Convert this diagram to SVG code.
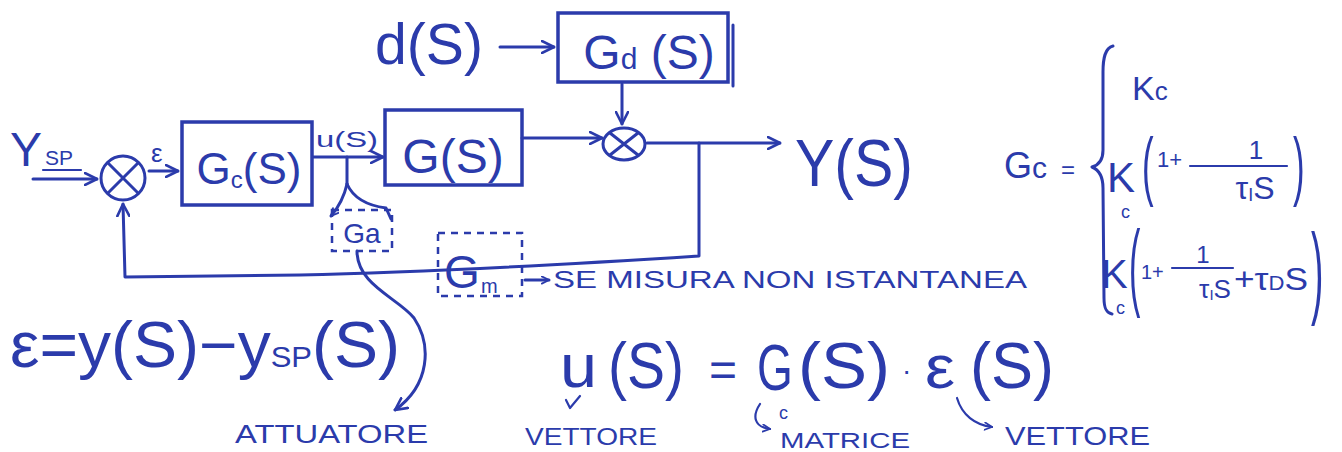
<svg xmlns="http://www.w3.org/2000/svg" width="1342" height="452" viewBox="0 0 1342 452">
<defs>
<marker id="ah" viewBox="0 0 14 14" refX="13" refY="7" markerWidth="14" markerHeight="14" markerUnits="userSpaceOnUse" orient="auto"><path d="M1,1 L13,7 L1,13" fill="none" stroke="#2b3bab" stroke-width="2.6" stroke-linecap="round" stroke-linejoin="round"/></marker>
<marker id="ahs" viewBox="0 0 10 10" refX="9" refY="5" markerWidth="9" markerHeight="9" markerUnits="userSpaceOnUse" orient="auto"><path d="M1,1 L9,5 L1,9" fill="none" stroke="#2b3bab" stroke-width="2" stroke-linecap="round"/></marker>
</defs>
<style>
.ln{fill:none;stroke:#2b3bab;stroke-width:3;stroke-linecap:round;stroke-linejoin:round}
.thin{fill:none;stroke:#2b3bab;stroke-width:2.2;stroke-linecap:round;stroke-linejoin:round}
.box{fill:none;stroke:#2b3bab;stroke-width:3.5}
.dash{fill:none;stroke:#2b3bab;stroke-width:2.5;stroke-dasharray:7 6}
text{fill:#2b3bab;font-family:"Liberation Sans","DejaVu Sans",sans-serif}
</style>
<rect width="1342" height="452" fill="#ffffff"/>

<g id="connectors">
<path class="ln" d="M33,179 L97,179" marker-end="url(#ah)"/>
<path class="ln" d="M149,171 L178,171" marker-end="url(#ah)"/>
<path class="ln" d="M313,157 L383,157" marker-end="url(#ah)"/>
<path class="ln" d="M500,47 L554,47" marker-end="url(#ah)"/>
<path class="ln" d="M522,138 L602,138" marker-end="url(#ah)"/>
<path class="ln" d="M622,84 L622,124" marker-end="url(#ah)"/>
<path class="ln" d="M647,143 L780,143" marker-end="url(#ah)"/>
<path class="ln" d="M699,143 L699,256 Q450,272 300,275 L125,277 L123,204" marker-end="url(#ah)"/>
<path class="ln" d="M347,157 L347,184"/>
<path class="ln" d="M347,184 Q343,202 331,216" marker-end="url(#ahs)"/>
<path class="ln" d="M347,184 Q356,204 386,208 L391,219"/>
<path class="ln" d="M357,251 C357,285 398,298 414,318 C432,345 430,385 395,410" marker-end="url(#ah)"/>
<path class="ln" d="M525,280 L549,280" marker-end="url(#ahs)"/>
<path class="thin" d="M566,400 L570,408 L580,396"/>
<path class="thin" d="M760,404 C752,416 754,427 770,429" marker-end="url(#ahs)"/>
<path class="thin" d="M957,398 C962,415 975,425 992,427" marker-end="url(#ahs)"/>
</g>

<g id="sum1">
<circle class="ln" cx="123" cy="178" r="22"/>
<path class="ln" d="M108,163 L138,193 M138,163 L108,193"/>
</g>
<g id="sum2">
<ellipse class="ln" cx="624" cy="144" rx="21" ry="16"/>
<path class="ln" d="M610,133 L638,155 M638,133 L610,155"/>
</g>

<g id="Gc">
<rect class="box" x="182" y="122" width="130" height="83"/>
<text x="249" y="184" text-anchor="middle" font-size="44">G<tspan font-size="24" dy="4">c</tspan><tspan dy="-4">(S)</tspan></text>
</g>
<g id="G">
<rect class="box" x="385" y="110" width="137" height="75"/>
<text x="453" y="173" text-anchor="middle" font-size="48">G(S)</text>
</g>
<g id="Gd">
<rect class="box" x="558" y="13" width="170" height="69"/>
<path class="ln" d="M733,25 L733,86"/>
<text x="649" y="69" text-anchor="middle" font-size="48">G<tspan font-size="30">d</tspan> (S)</text>
</g>
<g id="Ga">
<rect class="dash" x="332" y="210" width="60" height="41"/>
<text x="362" y="243" text-anchor="middle" font-size="28">Ga</text>
</g>
<g id="Gm">
<rect class="dash" x="438" y="233" width="84" height="63"/>
<text x="444" y="288" font-size="46">G</text>
<text x="481" y="293" font-size="20">m</text>
</g>

<g id="labels">
<text x="10" y="166" font-size="48">Y</text>
<text x="45" y="165" font-size="21">SP</text>
<path class="thin" d="M43,170 L81,170"/>
<text x="151" y="162" font-size="26">ε</text>
<text x="316" y="147" font-size="22" textLength="62" lengthAdjust="spacingAndGlyphs">u(S)</text>
<text x="375" y="64" font-size="58" textLength="108" lengthAdjust="spacingAndGlyphs">d(S)</text>
<text x="795" y="186" font-size="66" textLength="118" lengthAdjust="spacingAndGlyphs">Y(S)</text>
<text x="553" y="288" font-size="24" textLength="474" lengthAdjust="spacingAndGlyphs">SE MISURA NON ISTANTANEA</text>
</g>

<g id="Gc-def">
<text x="1004" y="178" font-size="36">G<tspan font-size="30">c</tspan></text>
<text x="1061" y="178" font-size="24">=</text>
<path class="ln" d="M1113,46 C1105,48 1103,58 1103,72 L1103,150 C1103,160 1099,165 1092,167 C1099,170 1103,176 1103,188 L1104,298 C1104,308 1106,313 1112,314"/>
<text x="1132" y="100" font-size="34">K<tspan font-size="26">c</tspan></text>
<text x="1107" y="192" font-size="42">K</text>
<text x="1121" y="218" font-size="18">c</text>
<text transform="translate(1142,191) scale(0.6,1.3)" font-size="58">(</text>
<text x="1157" y="167" font-size="22">1+</text>
<text x="1256" y="159" text-anchor="middle" font-size="26">1</text>
<path class="thin" d="M1190,166 L1287,166"/>
<text x="1255" y="199" text-anchor="middle" font-size="32">τ<tspan font-size="18" dy="2">I</tspan><tspan dy="-2">S</tspan></text>
<text transform="translate(1293,191) scale(0.6,1.3)" font-size="58">)</text>
<text x="1101" y="288" font-size="40">K</text>
<text x="1116" y="314" font-size="18">c</text>
<text transform="translate(1129,298) scale(0.55,1.55)" font-size="62">(</text>
<text x="1141" y="279" font-size="20">1+</text>
<text x="1203" y="263" text-anchor="middle" font-size="24">1</text>
<path class="thin" d="M1172,268 L1233,268"/>
<text x="1215" y="298" text-anchor="middle" font-size="26">τ<tspan font-size="15" dy="2">I</tspan><tspan dy="-2">S</tspan></text>
<text x="1234" y="290" font-size="32" textLength="74" lengthAdjust="spacingAndGlyphs">+τ<tspan font-size="20">D</tspan>S</text>
<text transform="translate(1311,305) scale(0.6,1.65)" font-size="62">)</text>
</g>

<g id="equations">
<text x="10" y="367" font-size="64" textLength="390" lengthAdjust="spacingAndGlyphs">ε=y(S)−y<tspan font-size="30">SP</tspan>(S)</text>
<text x="560" y="387" font-size="62" textLength="37" lengthAdjust="spacingAndGlyphs">u</text>
<text x="608" y="388" font-size="64" textLength="76" lengthAdjust="spacingAndGlyphs">(S)</text>
<text x="709" y="386" font-size="48">=</text>
<text transform="translate(757,390) scale(0.72,1)" font-size="64">G</text>
<text x="779" y="419" font-size="18">c</text>
<text x="798" y="388" font-size="64" textLength="92" lengthAdjust="spacingAndGlyphs">(S)</text>
<text x="902" y="380" font-size="28">·</text>
<text x="925" y="388" font-size="62" textLength="30" lengthAdjust="spacingAndGlyphs">ε</text>
<text x="970" y="388" font-size="64" textLength="84" lengthAdjust="spacingAndGlyphs">(S)</text>
<text x="235" y="443" font-size="26" textLength="193" lengthAdjust="spacingAndGlyphs">ATTUATORE</text>
<text x="525" y="445" font-size="24" textLength="132" lengthAdjust="spacingAndGlyphs">VETTORE</text>
<text x="780" y="448" font-size="22" textLength="130" lengthAdjust="spacingAndGlyphs">MATRICE</text>
<text x="1005" y="445" font-size="26" textLength="145" lengthAdjust="spacingAndGlyphs">VETTORE</text>
</g>
</svg>
